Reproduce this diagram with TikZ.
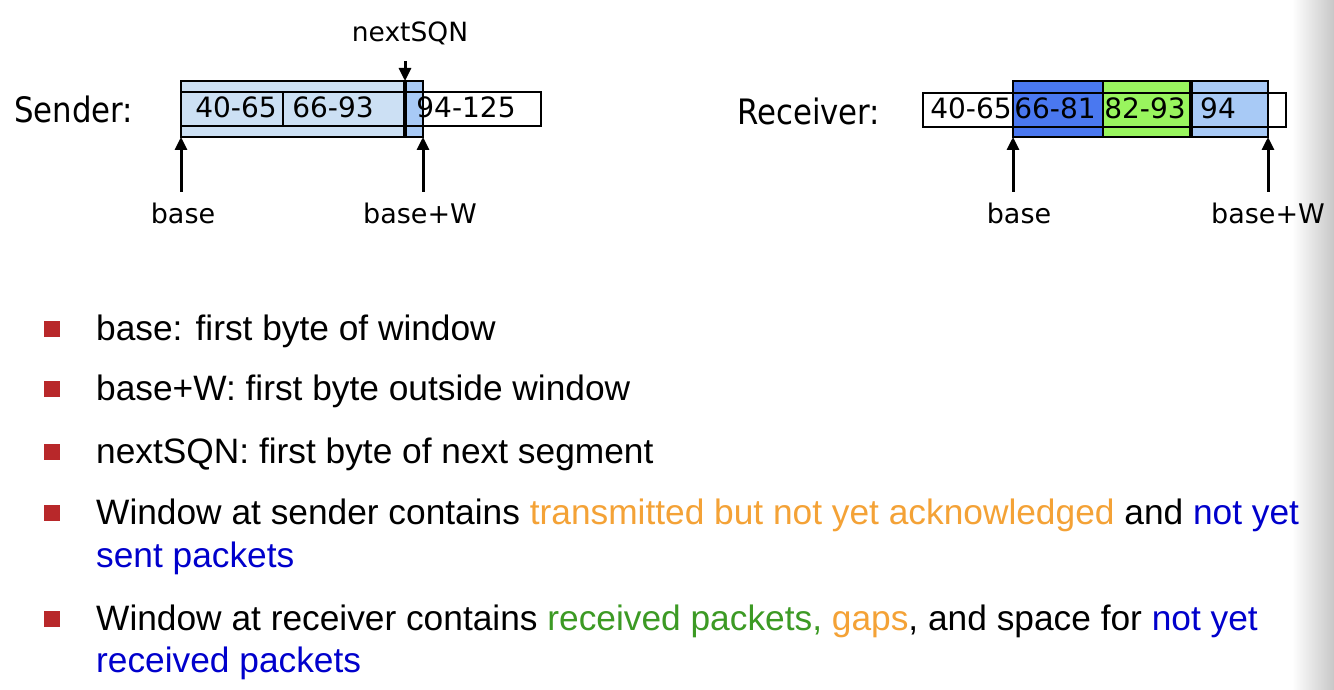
\documentclass[tikz,border=0pt]{standalone}
\usepackage{fontspec}
\setmainfont{Liberation Sans}
\newfontfamily\tah[FakeStretch=0.88]{DejaVu Sans}
\newfontfamily\dvs{DejaVu Sans}
\usetikzlibrary{arrows.meta}
\definecolor{paleblue}{HTML}{CCE0F4}
\definecolor{lblue}{HTML}{A8CAF6}
\definecolor{dblue}{HTML}{4A78F0}
\definecolor{lgreen}{HTML}{99F55E}
\definecolor{bulletred}{HTML}{B8282A}
\definecolor{torange}{HTML}{F4A236}
\definecolor{tgreen}{HTML}{3C9A24}
\definecolor{tblue}{HTML}{0000CC}
\begin{document}
\begin{tikzpicture}[x=1pt,y=-1pt,
  box/.style={draw=black, line width=2.2pt, inner sep=0pt, outer sep=0pt, anchor=north west},
  ptr/.style={line width=3pt, -{Triangle[width=12pt,length=13pt]}},
  lbl/.style={font=\dvs\fontsize{27}{30}\selectfont, anchor=base, inner sep=0pt},
  cell/.style={font=\dvs\fontsize{28}{30}\selectfont, anchor=base, inner sep=0pt},
  head/.style={font=\tah\fontsize{35}{40}\selectfont, anchor=base west, inner sep=0pt},
  item/.style={font=\fontsize{35.3}{43}\selectfont, anchor=base west, inner sep=0pt},
  sq/.style={fill=bulletred, minimum size=16pt, inner sep=0pt}
]
\fill[white] (0,0) rectangle (1334,690);
\useasboundingbox (0,0) rectangle (1334,690);
\shade[left color=white, right color=black!22] (1292,0) rectangle (1334,690);

% ---------- Sender ----------
\node[head] (sendl) at (14,123) {Sender:};
\node[box, fill=white, minimum width=136pt, minimum height=34pt] (s3) at (405,92) {};
\node[box, fill=paleblue, minimum width=242pt, minimum height=56pt] (swin) at (181,81) {};
\node[box, draw=none, fill=lblue, minimum width=18pt, minimum height=56pt] (snext) at (405,81) {};
\draw[line width=2.2pt] (swin.north west) rectangle (swin.south east);
\node[box, minimum width=102pt, minimum height=34pt] (s1) at (181,92) {};
\node[box, minimum width=122pt, minimum height=34pt] (s2) at (283,92) {};
\draw[line width=2.2pt] (s2.north east) -- (s3.north east) -- (s3.south east) -- (s2.south east);
\draw[line width=4pt] (snext.north west) -- (snext.south west);
\node[cell] (t40) at (236,118) {40-65};
\node[cell] (t66) at (333,118) {66-93};
\node[cell] (t94) at (466,118) {94-125};

\node[font=\dvs\fontsize{26.5}{28}\selectfont, anchor=base, inner sep=0pt] (nsqn) at (410,42) {nextSQN};
\coordinate (nq) at (405,61);
\draw[ptr] (nq) -- (snext.north west);

\coordinate (sb) at (181,192);
\coordinate (sw) at (423,192);
\draw[ptr] (sb) -- (swin.south west);
\draw[ptr] (sw) -- (swin.south east);
\node[lbl] (sbl) at (183,223) {base};
\node[lbl] (swl) at (420,223) {base+W};

% ---------- Receiver ----------
\node[head] (recl) at (737,125) {Receiver:};
\node[box, fill=white, minimum width=363pt, minimum height=34pt] (rrow) at (923,93) {};
\node[box, fill=dblue, minimum width=90pt, minimum height=56pt] (r2) at (1013,81) {};
\node[box, fill=lgreen, minimum width=88pt, minimum height=56pt] (r3) at (1103,81) {};
\node[box, fill=lblue, minimum width=77pt, minimum height=56pt] (r4) at (1191,81) {};
\draw[line width=2.2pt] (rrow.north west) rectangle (rrow.south east);
\draw[line width=4pt] (r4.north west) -- (r4.south west);
\node[cell] (u40) at (971,119) {40-65};
\node[cell] (u66) at (1055,119) {66-81};
\node[cell] (u82) at (1145,119) {82-93};
\node[cell] (u94) at (1218,119) {94};

\coordinate (rb) at (1013,192);
\coordinate (rw) at (1268,192);
\draw[ptr] (rb) -- (r2.south west);
\draw[ptr] (rw) -- (r4.south east);
\node[lbl] (rbl) at (1019,223) {base};
\node[lbl] (rwl) at (1268,223) {base+W};

% ---------- Bullets ----------
\node[sq] (b1) at (52,329) {};
\node[item] (l1) at (96,340) {base: first byte of window};
\node[sq] (b2) at (52,389) {};
\node[item] (l2) at (96,400) {base+W: first byte outside window};
\node[sq] (b3) at (52,452) {};
\node[item] (l3) at (96,463) {nextSQN: first byte of next segment};
\node[sq] (b4) at (52,513) {};
\node[item] (l4) at (96,524) {Window at sender contains \textcolor{torange}{transmitted but not yet acknowledged} and \textcolor{tblue}{not yet}};
\node[item, text=tblue] (l4b) at (96,567) {sent packets};
\node[sq] (b5) at (52,619) {};
\node[item] (l5) at (96,630) {Window at receiver contains \textcolor{tgreen}{received packets,} \textcolor{torange}{gaps}, and space for \textcolor{tblue}{not yet}};
\node[item, text=tblue] (l5b) at (96,672) {received packets};
\end{tikzpicture}
\end{document}
